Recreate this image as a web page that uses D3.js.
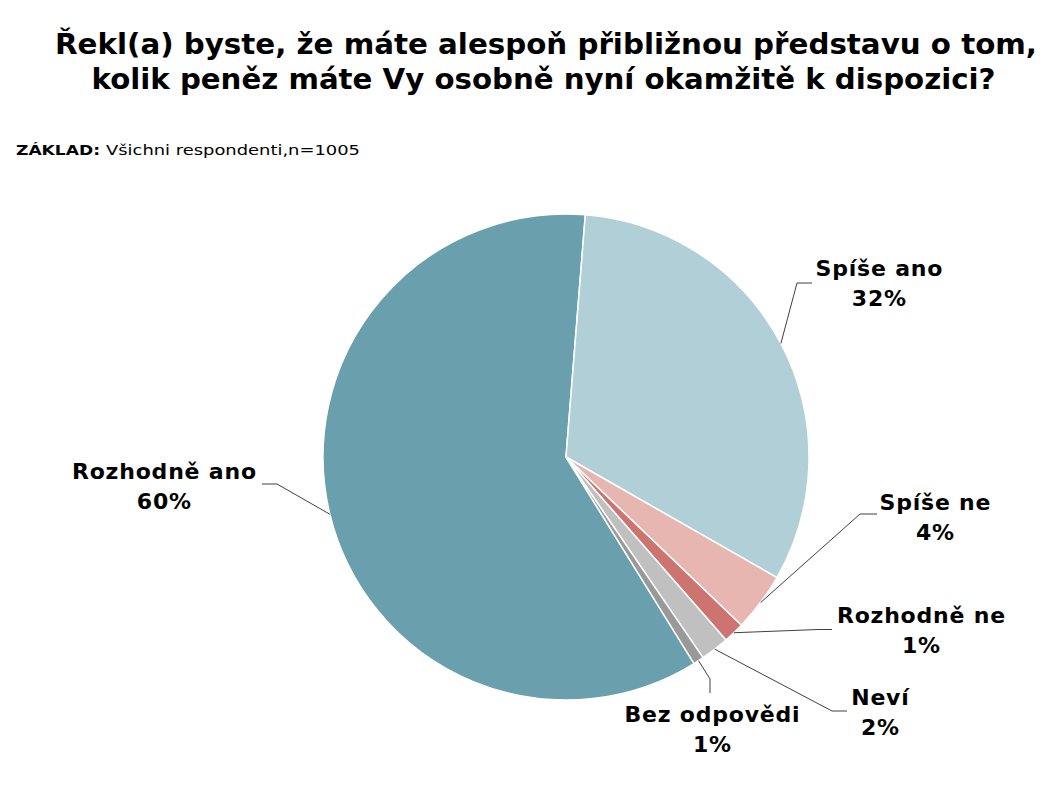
<!DOCTYPE html>
<html>
<head>
<meta charset="utf-8">
<script src="https://cdn.jsdelivr.net/npm/d3@7"></script>
<style>
    body { margin: 0; background: #fff; }
    svg text { font-family: "DejaVu Sans", Verdana, sans-serif; fill: #000; }
</style>
</head>
<body>
<div id="chart"></div>
<script>

// data
let categories = ["Rozhodně ano", "Spíše ano", "Spíše ne", "Rozhodně ne", "Neví", "Bez odpovědi"];
let values = [60.1, 32.0, 3.9, 1.4, 1.9, 0.7];
let pctLabels = ["60%", "32%", "4%", "1%", "2%", "1%"];
let sliceColors = ["#6a9fad", "#b1cfd7", "#e7b6b1", "#cd7470", "#c0c0c0", "#999999"];

let titleLines = [
    "Řekl(a) byste, že máte alespoň přibližnou představu o tom,",
    "kolik peněz máte Vy osobně nyní okamžitě k dispozici?"
];

// label placement (elbow, end of leader, text centre, first baseline)
let labelLayout = [
    {elbow: [277, 484], end: [262, 484], tx: 164, ty: 479},
    {elbow: [797, 283], end: [812, 283], tx: 879, ty: 276},
    {elbow: [860, 514], end: [877, 514], tx: 935, ty: 510},
    {elbow: [818, 629.5], end: [832, 629.5], tx: 921, ty: 623},
    {elbow: [832, 711], end: [847, 711], tx: 880, ty: 705},
    {elbow: [710, 679], end: [710, 693], tx: 712, ty: 722}
];

let width = 1061, height = 787;
let cx = 566, cy = 457, radius = 243;

let svg = d3.select("#chart").append("svg")
    .attr("width", width)
    .attr("height", height);

// title
svg.selectAll(".title")
    .data(titleLines)
    .enter().append("text")
    .attr("class", "title")
    .attr("x", (d, i) => i == 0 ? 546 : 543.5)
    .attr("y", (d, i) => 54 + i * 35)
    .attr("text-anchor", "middle")
    .attr("font-size", "28px")
    .attr("font-weight", "bold")
    .attr("textLength", (d, i) => i == 0 ? 982 : 904)
    .attr("lengthAdjust", "spacingAndGlyphs")
    .text(d => d);

// base line
svg.append("text")
    .attr("x", 16).attr("y", 155)
    .attr("font-size", "14px").attr("font-weight", "bold")
    .attr("textLength", 84).attr("lengthAdjust", "spacingAndGlyphs")
    .text("ZÁKLAD:");
svg.append("text")
    .attr("x", 106).attr("y", 155)
    .attr("font-size", "14px")
    .attr("textLength", 254).attr("lengthAdjust", "spacingAndGlyphs")
    .text("Všichni respondenti,n=1005");

// pie
let start = 148.2 * Math.PI / 180;
let pie = d3.pie()
    .sort(null)
    .value(d => d)
    .startAngle(start)
    .endAngle(start + 2 * Math.PI);

let arcs = pie(values);

let arc = d3.arc().innerRadius(0).outerRadius(radius);
let edgeArc = d3.arc().innerRadius(radius).outerRadius(radius);

let g = svg.append("g")
    .attr("transform", `translate(${cx},${cy})`);

g.selectAll(".slice")
    .data(arcs)
    .enter().append("path")
    .attr("class", "slice")
    .attr("d", arc)
    .attr("fill", (d, i) => sliceColors[i])
    .attr("stroke", "#fff")
    .attr("stroke-width", 1.5);

// leader lines
svg.selectAll(".leader")
    .data(arcs)
    .enter().append("polyline")
    .attr("class", "leader")
    .attr("fill", "none")
    .attr("stroke", "#404040")
    .attr("stroke-width", 1)
    .attr("points", (d, i) => {
        let p = edgeArc.centroid(d);
        let l = labelLayout[i];
        return [[p[0] + cx, p[1] + cy], l.elbow, l.end].map(q => q.join(",")).join(" ");
    });

// labels
let labels = svg.selectAll(".label")
    .data(categories)
    .enter().append("text")
    .attr("class", "label")
    .attr("text-anchor", "middle")
    .attr("font-size", "22px")
    .attr("font-weight", "bold")
    .attr("letter-spacing", "0.8px");

labels.append("tspan")
    .attr("x", (d, i) => labelLayout[i].tx + 0.4)
    .attr("y", (d, i) => labelLayout[i].ty)
    .text(d => d);

labels.append("tspan")
    .attr("x", (d, i) => labelLayout[i].tx + 0.4)
    .attr("y", (d, i) => labelLayout[i].ty + 29.5)
    .text((d, i) => pctLabels[i]);

</script>
</body>
</html>
